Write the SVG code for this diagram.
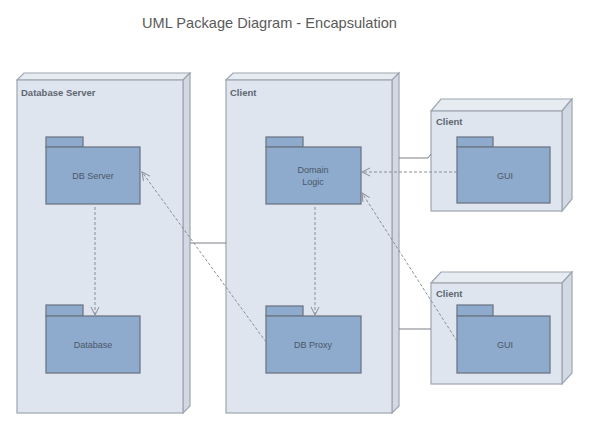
<svg xmlns="http://www.w3.org/2000/svg" width="594" height="434" viewBox="0 0 594 434">
<defs>
<style>
.title{font-family:"Liberation Sans",Arial,sans-serif;font-size:14.6px;fill:#5a5a5a}
.nodelbl{font-family:"Liberation Sans",Arial,sans-serif;font-size:9.5px;font-weight:bold;fill:#5f6670}
.pkglbl{font-family:"Liberation Sans",Arial,sans-serif;font-size:9px;fill:#4a5868;text-anchor:middle}
.front{fill:#dee5ef;stroke:#9ea6b0;stroke-width:1.2}
.top{fill:#e7ecf3;stroke:#9ea6b0;stroke-width:1.2}
.side{fill:#d2d9e4;stroke:#9ea6b0;stroke-width:1.2}
.pkg{fill:#8eaacd;stroke:#6d7784;stroke-width:1.3}
.solid{fill:none;stroke:#7a7f86;stroke-width:1}
.dash{fill:none;stroke:#8a8f96;stroke-width:1;stroke-dasharray:3,2}
</style>
<marker id="open" markerWidth="10" markerHeight="10" refX="9" refY="5" orient="auto" markerUnits="userSpaceOnUse">
<path d="M1,1 L9,5 L1,9" fill="none" stroke="#8a8f96" stroke-width="1"/>
</marker>
</defs>
<rect width="594" height="434" fill="#ffffff"/>
<text class="title" x="142" y="28">UML Package Diagram - Encapsulation</text>

<g id="node-dbserver-node">
<polygon class="top" points="17,80 24,73 190,73 183,80"/>
<polygon class="side" points="183,80 190,73 190,406 183,413"/>
<rect class="front" x="17" y="80" width="166" height="333"/>
<text class="nodelbl" x="21" y="96">Database Server</text>
</g>

<g id="node-client-main">
<polygon class="top" points="226,80 233,73 399,73 392,80"/>
<polygon class="side" points="392,80 399,73 399,406 392,413"/>
<rect class="front" x="226" y="80" width="166" height="333"/>
<text class="nodelbl" x="230" y="96">Client</text>
</g>

<g id="node-client-top">
<polygon class="top" points="431,111 441,99 572,99 562,111"/>
<polygon class="side" points="562,111 572,99 572,199 562,211"/>
<rect class="front" x="431" y="111" width="131" height="100"/>
<text class="nodelbl" x="436" y="125">Client</text>
</g>

<g id="node-client-bottom">
<polygon class="top" points="431,283 441,272 572,272 562,283"/>
<polygon class="side" points="562,283 572,272 572,373 562,384"/>
<rect class="front" x="431" y="283" width="131" height="101"/>
<text class="nodelbl" x="436" y="297">Client</text>
</g>

<g id="pkg-dbserver">
<rect class="pkg" x="46" y="137" width="37" height="10"/>
<rect class="pkg" x="46" y="147" width="94" height="57"/>
<text class="pkglbl" x="93" y="179">DB Server</text>
</g>

<g id="pkg-database">
<rect class="pkg" x="46" y="305" width="37" height="11"/>
<rect class="pkg" x="46" y="316" width="94" height="57"/>
<text class="pkglbl" x="93" y="348">Database</text>
</g>

<g id="pkg-domainlogic">
<rect class="pkg" x="266" y="137" width="37" height="10"/>
<rect class="pkg" x="266" y="147" width="95" height="57"/>
<text class="pkglbl" x="313" y="173">Domain</text>
<text class="pkglbl" x="313" y="185">Logic</text>
</g>

<g id="pkg-dbproxy">
<rect class="pkg" x="266" y="306" width="37" height="10"/>
<rect class="pkg" x="266" y="316" width="95" height="57"/>
<text class="pkglbl" x="313" y="348">DB Proxy</text>
</g>

<g id="pkg-gui-top">
<rect class="pkg" x="457" y="137" width="36" height="10"/>
<rect class="pkg" x="457" y="147" width="93" height="56"/>
<text class="pkglbl" x="505" y="179">GUI</text>
</g>

<g id="pkg-gui-bottom">
<rect class="pkg" x="457" y="305" width="36" height="11"/>
<rect class="pkg" x="457" y="316" width="93" height="57"/>
<text class="pkglbl" x="505" y="348">GUI</text>
</g>

<g id="connectors">
<line class="solid" x1="190" y1="243" x2="226" y2="243"/>
<polyline class="solid" points="399,158 428,158 431,154"/>
<line class="solid" x1="399" y1="329" x2="431" y2="329"/>
<line class="dash" x1="95" y1="207" x2="95" y2="315" marker-end="url(#open)"/>
<line class="dash" x1="315" y1="207" x2="315" y2="315" marker-end="url(#open)"/>
<line class="dash" x1="457" y1="172" x2="362" y2="172" marker-end="url(#open)"/>
<line class="dash" x1="457" y1="341" x2="362" y2="193" marker-end="url(#open)"/>
<line class="dash" x1="266" y1="342" x2="142" y2="172" marker-end="url(#open)"/>
</g>
</svg>
